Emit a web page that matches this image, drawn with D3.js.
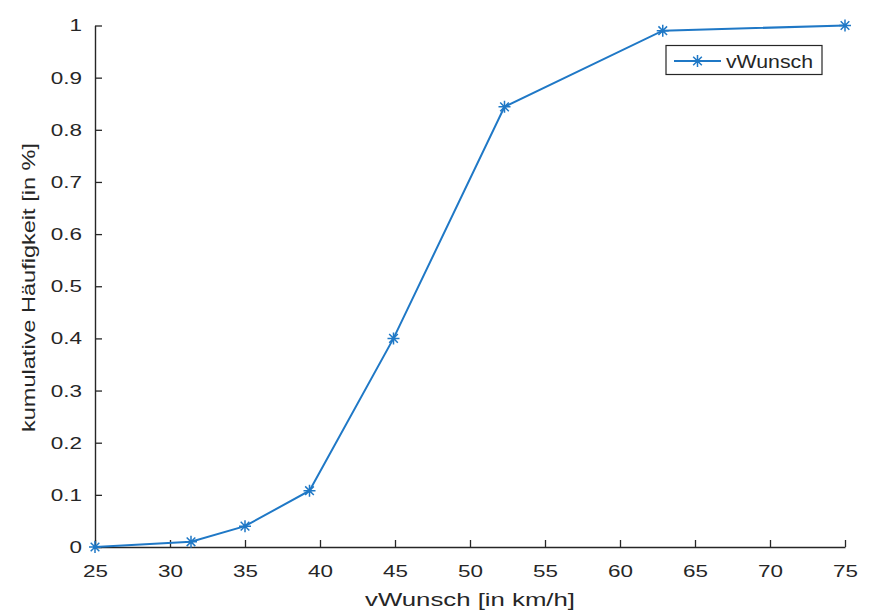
<!DOCTYPE html>
<html><head><meta charset="utf-8">
<script src="https://cdn.jsdelivr.net/npm/d3@7"></script>
<style>
body{margin:0;background:#fff;}
text{font-family:"Liberation Sans",Arial,sans-serif;fill:#262626;}
</style></head>
<body>
<svg id="c" width="871" height="610"></svg>
<script>
const xValues = [25, 31.4, 35, 39.3, 44.9, 52.3, 62.85, 75];
const yValues = [0, 0.01, 0.04, 0.108, 0.40, 0.844, 0.99, 1.0];
const xTicks = [25, 30, 35, 40, 45, 50, 55, 60, 65, 70, 75];
const yTicks = [0, 0.1, 0.2, 0.3, 0.4, 0.5, 0.6, 0.7, 0.8, 0.9, 1];
const seriesName = "vWunsch";
const xLabel = "vWunsch [in km/h]";
const yLabel = "kumulative Häufigkeit [in %]";

const svg = d3.select("#c");
const L = 95, R = 845, T = 25.5, B = 547;
const x = d3.scaleLinear().domain([25, 75]).range([L, R]);
const y = d3.scaleLinear().domain([0, 1]).range([B, T]);
const color = "#1f78c6";
const stretch = 1.32;

function stretchText(sel, f){
  sel.each(function(){
    const w = this.getComputedTextLength();
    d3.select(this).attr("textLength", w*f).attr("lengthAdjust","spacingAndGlyphs");
  });
}

const gx = svg.append("g").attr("transform", `translate(0,${B})`)
  .call(d3.axisBottom(x).tickValues(xTicks).tickSizeInner(-7).tickSizeOuter(0).tickPadding(18).tickFormat(d3.format("d")));
const gy = svg.append("g").attr("transform", `translate(${L},0)`)
  .call(d3.axisLeft(y).tickValues(yTicks).tickSizeInner(-7).tickSizeOuter(0).tickPadding(13).tickFormat(d => d === 0 ? "0" : d === 1 ? "1" : d3.format(".1f")(d)));
[gx, gy].forEach(g => {
  g.selectAll("path.domain").attr("stroke", "#262626").attr("stroke-width", 1.4);
  g.selectAll(".tick line").attr("stroke", "#262626").attr("stroke-width", 1.3);
  g.selectAll(".tick text").attr("font-size", 17).attr("font-family", '"Liberation Sans",Arial,sans-serif').attr("fill", "#262626");
  stretchText(g.selectAll(".tick text"), stretch);
});

svg.append("text").attr("x", (365+575)/2).attr("y", 606).attr("text-anchor","middle")
  .attr("font-size", 18).text(xLabel).attr("textLength", 210).attr("lengthAdjust","spacingAndGlyphs");
svg.append("text").attr("transform", `translate(35,287.5) rotate(-90)`).attr("text-anchor","middle")
  .attr("font-size", 18).text(yLabel).attr("textLength", 289).attr("lengthAdjust","spacingAndGlyphs");

const pts = xValues.map((v,i)=>[v, yValues[i]]);
svg.append("path").datum(pts)
  .attr("d", d3.line().x(d=>x(d[0])).y(d=>y(d[1])))
  .attr("fill","none").attr("stroke", color).attr("stroke-width", 2);

function star(g, cx, cy, r){
  const d = r*0.72;
  g.append("path").attr("d",
    `M${cx-r},${cy}L${cx+r},${cy}M${cx},${cy-r}L${cx},${cy+r}M${cx-d},${cy-d}L${cx+d},${cy+d}M${cx-d},${cy+d}L${cx+d},${cy-d}`)
    .attr("stroke", color).attr("stroke-width", 1.5).attr("fill","none");
}
const mg = svg.append("g");
pts.forEach(p => star(mg, x(p[0]), y(p[1]), 6));

// legend
const lg = svg.append("g");
lg.append("rect").attr("x", 666).attr("y", 45.5).attr("width", 156).attr("height", 29)
  .attr("fill","#fff").attr("stroke","#262626").attr("stroke-width",1.2);
lg.append("line").attr("x1",674).attr("x2",721).attr("y1",61).attr("y2",61).attr("stroke",color).attr("stroke-width",2);
star(lg, 697.5, 61, 6);
lg.append("text").attr("x", 726).attr("y", 67.5).attr("font-size", 18).text(seriesName)
  .attr("textLength", 87).attr("lengthAdjust","spacingAndGlyphs");
</script>
</body></html>
